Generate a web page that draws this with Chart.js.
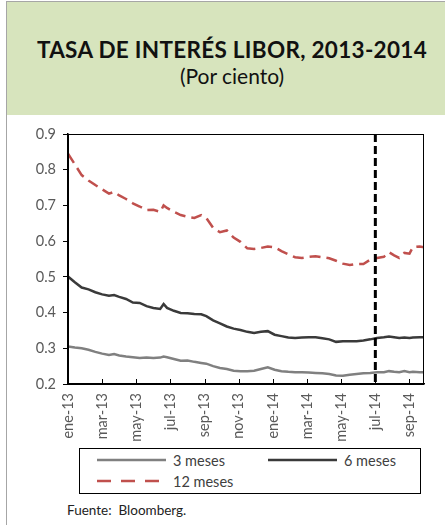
<!DOCTYPE html>
<html lang="es">
<head>
<meta charset="utf-8">
<title>Tasa de interés LIBOR, 2013-2014</title>
<script src="https://cdn.jsdelivr.net/npm/chart.js@4/dist/chart.umd.min.js"></script>
<style>
  html, body { margin: 0; padding: 0; background: #fff; }
  body { width: 445px; height: 525px; position: relative; overflow: hidden; font-family: Lato, "Open Sans", sans-serif; }
  .marco { position: absolute; left: 6px; top: 1px; width: 439px; height: 524px; border-left: 1.5px solid #a6a6a6; border-top: 1.5px solid #a6a6a6; }
  .cabecera { position: absolute; left: 7px; top: 2px; width: 426px; padding-left: 12px; height: 113px; background: #d7e4bd; text-align: center; }
  .cabecera h1 { margin: 0; padding-top: 34px; font-size: 22.5px; line-height: 28px; font-weight: bold; color: #111; letter-spacing: 0.3px; white-space: nowrap; }
  .cabecera h2 { margin: 0; padding-top: 0px; font-size: 21px; line-height: 24px; font-weight: normal; color: #111; }
  .grafico { position: absolute; left: 0; top: 115px; width: 445px; height: 333px; }
  .leyenda { position: absolute; left: 79px; top: 448px; width: 340px; height: 44px; border: 1px solid #000; font-size: 14.5px; color: #404040; }
  .item { position: absolute; display: flex; align-items: center; }
  .item svg { margin-right: 7px; }
  .fuente { position: absolute; left: 67px; top: 502px; font-size: 13.5px; color: #222; }
</style>
</head>
<body>
<div class="marco"></div>
<div class="cabecera">
  <h1>TASA DE INTERÉS LIBOR, 2013-2014</h1>
  <h2>(Por ciento)</h2>
</div>
<div class="grafico"><canvas id="libor"></canvas></div>
<div class="leyenda" id="leyenda"></div>
<div class="fuente">Fuente:&nbsp; Bloomberg.</div>

<script>
// meses transcurridos desde ene-13
const meses = [0.0, 0.4, 0.8, 1.2, 1.6, 2.0, 2.4, 2.7, 3.0, 3.4, 3.8, 4.2, 4.6, 5.0, 5.4, 5.6, 5.8,
  6.2, 6.6, 7.0, 7.4, 7.8, 8.1, 8.5, 8.9, 9.3, 9.7, 10.1, 10.5, 10.9, 11.3, 11.7, 12.1, 12.5,
  12.9, 13.3, 13.7, 14.1, 14.5, 14.9, 15.3, 15.7, 16.1, 16.5, 16.9, 17.3, 17.7, 18.1, 18.5,
  18.8, 19.1, 19.4, 19.7, 20.0, 20.2, 20.6, 20.85];

const tresMeses = [0.305, 0.302, 0.300, 0.296, 0.290, 0.285, 0.281, 0.284, 0.280, 0.277, 0.275,
  0.273, 0.274, 0.273, 0.274, 0.277, 0.275, 0.270, 0.265, 0.266, 0.262, 0.259, 0.257, 0.250,
  0.245, 0.242, 0.237, 0.236, 0.236, 0.237, 0.242, 0.247, 0.240, 0.236, 0.234, 0.233, 0.233,
  0.232, 0.231, 0.230, 0.228, 0.224, 0.223, 0.226, 0.228, 0.230, 0.231, 0.233, 0.233, 0.236,
  0.234, 0.233, 0.236, 0.233, 0.234, 0.233, 0.233];

const seisMeses = [0.501, 0.485, 0.470, 0.465, 0.457, 0.451, 0.447, 0.449, 0.444, 0.438, 0.428,
  0.427, 0.418, 0.413, 0.410, 0.424, 0.413, 0.405, 0.399, 0.398, 0.396, 0.395, 0.390, 0.378,
  0.370, 0.361, 0.355, 0.351, 0.346, 0.343, 0.346, 0.348, 0.338, 0.334, 0.330, 0.329, 0.330,
  0.331, 0.331, 0.328, 0.325, 0.318, 0.320, 0.320, 0.320, 0.322, 0.325, 0.329, 0.331, 0.333,
  0.331, 0.329, 0.330, 0.329, 0.330, 0.331, 0.331];

const doceMeses = [0.845, 0.815, 0.785, 0.770, 0.757, 0.745, 0.733, 0.738, 0.728, 0.718, 0.706,
  0.697, 0.687, 0.688, 0.682, 0.700, 0.693, 0.682, 0.673, 0.668, 0.665, 0.673, 0.665, 0.637,
  0.625, 0.630, 0.610, 0.598, 0.580, 0.578, 0.581, 0.585, 0.583, 0.572, 0.563, 0.555, 0.553,
  0.556, 0.558, 0.555, 0.552, 0.545, 0.537, 0.533, 0.536, 0.536, 0.548, 0.553, 0.556, 0.569,
  0.560, 0.553, 0.567, 0.565, 0.583, 0.585, 0.583];

const etiquetasX = ["ene-13", "mar-13", "may-13", "jul-13", "sep-13", "nov-13",
  "ene-14", "mar-14", "may-14", "jul-14", "sep-14"];

const marcaJulio14 = 18; // línea vertical punteada

const series = [
  { label: "3 meses", data: tresMeses, color: "#808080", dash: [] },
  { label: "6 meses", data: seisMeses, color: "#3a3a3a", dash: [] },
  { label: "12 meses", data: doceMeses, color: "#c0504d", dash: [11, 6] }
];

// marco del área, marcas internas del eje x y línea vertical
const decoracion = {
  id: "decoracion",
  afterDatasetsDraw(chart) {
    const { ctx, chartArea: a, scales } = chart;
    ctx.save();
    ctx.strokeStyle = "#000";
    ctx.lineWidth = 1;
    ctx.strokeRect(a.left + 0.5, a.top + 0.5, a.right - a.left - 1, a.bottom - a.top);
    scales.x.ticks.forEach((t) => {
      if (t.value === 0) return;
      const px = Math.round(scales.x.getPixelForValue(t.value)) + 0.5;
      ctx.beginPath();
      ctx.moveTo(px, a.bottom);
      ctx.lineTo(px, a.bottom - 5);
      ctx.stroke();
    });
    const vx = scales.x.getPixelForValue(marcaJulio14);
    ctx.lineWidth = 3;
    ctx.setLineDash([8, 4]);
    ctx.beginPath();
    ctx.moveTo(vx, a.top);
    ctx.lineTo(vx, a.bottom);
    ctx.stroke();
    ctx.restore();
  }
};

const chart = new Chart(document.getElementById("libor"), {
  type: "line",
  data: {
    datasets: series.map((s) => ({
      label: s.label,
      data: meses.map((m, i) => ({ x: m, y: s.data[i] })),
      borderColor: s.color,
      backgroundColor: s.color,
      borderWidth: 2.5,
      borderDash: s.dash,
      pointRadius: 0,
      tension: 0
    }))
  },
  options: {
    responsive: true,
    maintainAspectRatio: false,
    animation: false,
    layout: { padding: { top: 19, right: 21, left: 0, bottom: 0 } },
    plugins: {
      legend: { display: false },
      tooltip: { enabled: false }
    },
    scales: {
      x: {
        type: "linear",
        min: 0,
        max: 20.85,
        afterFit: (s) => { s.height = 64; },
        afterBuildTicks: (s) => { s.ticks = etiquetasX.map((_, i) => ({ value: i * 2 })); },
        ticks: {
          autoSkip: false,
          minRotation: 90,
          maxRotation: 90,
          padding: 9,
          color: "#595959",
          font: { family: "Lato", size: 14.5 },
          callback: (v) => etiquetasX[v / 2]
        },
        grid: { drawOnChartArea: false, drawTicks: false },
        border: { display: true, color: "#000", width: 1.5 }
      },
      y: {
        min: 0.2,
        max: 0.9,
        afterFit: (s) => { s.width = 68; },
        ticks: {
          stepSize: 0.1,
          padding: 7,
          color: "#595959",
          font: { family: "Lato", size: 14.5 },
          callback: (v) => v.toFixed(1)
        },
        grid: { drawOnChartArea: false, drawTicks: true, tickLength: 5, color: "#000" },
        border: { display: true, color: "#000", width: 1.5 }
      }
    }
  },
  plugins: [decoracion]
});

// leyenda con marco, a partir de los datasets
const posiciones = [[17, 2], [188, 2], [17, 23]];
const leyenda = document.getElementById("leyenda");
chart.data.datasets.forEach((ds, i) => {
  const item = document.createElement("div");
  item.className = "item";
  item.style.left = posiciones[i][0] + "px";
  item.style.top = posiciones[i][1] + "px";
  const dash = ds.borderDash.length ? ' stroke-dasharray="14 10"' : "";
  item.innerHTML = '<svg width="69" height="18"><line x1="0" y1="9" x2="69" y2="9" stroke="' +
    ds.borderColor + '" stroke-width="2.5"' + dash + '/></svg><span>' + ds.label + "</span>";
  leyenda.appendChild(item);
});
</script>
</body>
</html>
